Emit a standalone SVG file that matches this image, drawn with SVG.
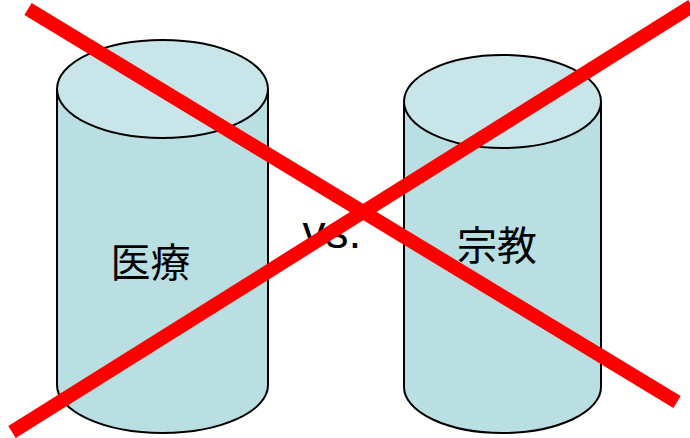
<svg xmlns="http://www.w3.org/2000/svg" width="690" height="438" viewBox="0 0 690 438">
<style>
.body{fill:#b9dfe2;stroke:#000;stroke-width:2}
.top{fill:#c8e6e9;stroke:#000;stroke-width:2}
.lbl{font-family:"Liberation Sans","Noto Sans CJK JP",sans-serif;font-size:40px;fill:#000;text-anchor:middle}
.x{stroke:#ff0000;stroke-width:14;fill:none}
</style>
<rect width="690" height="438" fill="#fff"/>
<g id="medical">
<path class="body" d="M57,89 L57,385 A105.5,48 0 0 0 268,385 L268,89 Z"/>
<ellipse class="top" cx="162.5" cy="89" rx="105.5" ry="49"/>
<text class="lbl" x="150.5" y="277">医療</text>
</g>
<g id="religion">
<path class="body" d="M404,101.5 L404,387 A98.5,46 0 0 0 601,387 L601,101.5 Z"/>
<ellipse class="top" cx="502.5" cy="101.5" rx="98.5" ry="46.5"/>
<text class="lbl" x="497" y="260">宗教</text>
</g>
<g id="vs">
<text class="lbl" x="332" y="248" style="font-size:46px">vs.</text>
</g>
<g id="connectors">
<line class="x" x1="28" y1="9" x2="677" y2="402"/>
<line class="x" x1="12" y1="432" x2="692" y2="6"/>
</g>
</svg>
